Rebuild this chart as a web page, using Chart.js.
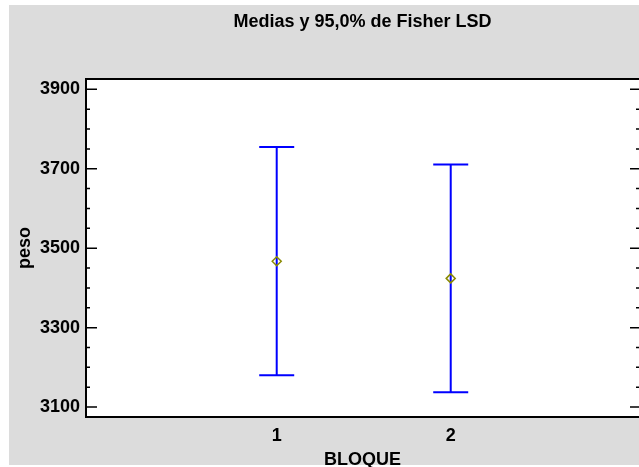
<!DOCTYPE html>
<html>
<head>
<meta charset="utf-8">
<script src="https://cdn.jsdelivr.net/npm/chart.js@4.4.0/dist/chart.umd.min.js"></script>
<style>
    html, body { margin: 0; padding: 0; background: #ffffff; }
    canvas { display: block; }
</style>
</head>
<body>
<canvas id="chart" width="639" height="467"></canvas>
<script>
'use strict'
// medias de peso por bloque con intervalos LSD de Fisher
const categories = [1, 2];
const means = [3467, 3424];
const lower = [3180, 3137];
const upper = [3755, 3711];
const yTicks = [3100, 3300, 3500, 3700, 3900];

const titleText = 'Medias y 95,0% de Fisher LSD';
const xTitle = 'BLOQUE';
const yTitle = 'peso';

const boldFont = (size) => ({ family: '"Liberation Sans", Arial, sans-serif', size: size, weight: 'bold', lineHeight: 1 });

const backPlugin = {
    id: 'back',
    beforeDraw(chart) {
        const ctx = chart.ctx;
        const a = chart.chartArea;
        ctx.save();
        ctx.fillStyle = '#ffffff';
        ctx.fillRect(0, 0, chart.width, chart.height);
        ctx.fillStyle = '#dcdcdc';
        ctx.fillRect(9, 5, chart.width - 9, 460);
        ctx.fillStyle = '#ffffff';
        ctx.fillRect(a.left, a.top, a.right - a.left, a.bottom - a.top);
        ctx.restore();
    }
};

const errorBars = {
    id: 'errorBars',
    beforeDatasetsDraw(chart) {
        const ctx = chart.ctx;
        const x = chart.scales.x;
        const y = chart.scales.y;
        ctx.save();
        ctx.strokeStyle = '#0000ff';
        ctx.lineWidth = 2;
        for (let i = 0; i < categories.length; i++) {
            const px = x.getPixelForValue(categories[i]);
            const top = y.getPixelForValue(upper[i]);
            const bot = y.getPixelForValue(lower[i]);
            ctx.beginPath();
            ctx.moveTo(px, top);
            ctx.lineTo(px, bot);
            ctx.moveTo(px - 17.5, top);
            ctx.lineTo(px + 17.5, top);
            ctx.moveTo(px - 17.5, bot);
            ctx.lineTo(px + 17.5, bot);
            ctx.stroke();
        }
        ctx.restore();
    }
};

const frame = {
    id: 'frame',
    afterDraw(chart) {
        const ctx = chart.ctx;
        const a = chart.chartArea;
        const y = chart.scales.y;
        ctx.save();
        ctx.strokeStyle = '#000000';

        // ticks por dentro, a ambos lados
        ctx.lineWidth = 1.5;
        ctx.beginPath();
        for (let i = 0; i < yTicks.length; i++) {
            const py = y.getPixelForValue(yTicks[i]);
            ctx.moveTo(a.left, py);
            ctx.lineTo(a.left + 11, py);
            ctx.moveTo(a.right - 9, py);
            ctx.lineTo(a.right, py);
            if (i < yTicks.length - 1) {
                const step = (yTicks[i + 1] - yTicks[i]) / 4;
                for (let k = 1; k < 4; k++) {
                    const my = y.getPixelForValue(yTicks[i] + step * k);
                    ctx.moveTo(a.left, my);
                    ctx.lineTo(a.left + 4, my);
                    ctx.moveTo(a.right - 3, my);
                    ctx.lineTo(a.right, my);
                }
            }
        }
        ctx.stroke();

        ctx.lineWidth = 2;
        ctx.beginPath();
        ctx.moveTo(a.right, a.top);
        ctx.lineTo(a.left, a.top);
        ctx.lineTo(a.left, a.bottom);
        ctx.lineTo(a.right, a.bottom);
        ctx.stroke();

        ctx.fillStyle = '#000000';
        ctx.font = 'bold 18px "Liberation Sans", Arial, sans-serif';
        ctx.textAlign = 'center';
        ctx.textBaseline = 'middle';
        ctx.fillText(titleText, (a.left + a.right) / 2, 22);
        ctx.restore();
    }
};

const ctx = document.getElementById('chart').getContext('2d');
const chart = new Chart(ctx, {
    type: 'scatter',
    data: {
        datasets: [{
            data: categories.map((c, i) => ({ x: c, y: means[i] })),
            pointStyle: 'rectRot',
            radius: 4.5,
            borderColor: '#8a8a00',
            backgroundColor: 'rgba(0,0,0,0)',
            borderWidth: 1.5
        }]
    },
    options: {
        responsive: false,
        animation: false,
        devicePixelRatio: 1,
        layout: {
            autoPadding: false,
            padding: { top: 79, left: 0, right: 0, bottom: 0 }
        },
        plugins: {
            legend: { display: false },
            tooltip: { enabled: false },
            title: { display: false }
        },
        scales: {
            x: {
                type: 'linear',
                min: -0.096,
                max: 3.082,
                afterBuildTicks: (scale) => {
                    scale.ticks = categories.map((v) => ({ value: v }));
                },
                afterFit: (scale) => {
                    scale.height = 50;
                    scale.paddingLeft = 0;
                    scale.paddingRight = 0;
                },
                grid: { display: false, drawTicks: false },
                border: { display: false },
                ticks: {
                    color: '#000000',
                    font: boldFont(18),
                    padding: 10,
                    maxRotation: 0,
                    callback: (v) => String(v)
                },
                title: {
                    display: true,
                    text: xTitle,
                    color: '#000000',
                    font: boldFont(18),
                    padding: { top: 0, bottom: -2 }
                }
            },
            y: {
                min: 3075,
                max: 3926,
                afterBuildTicks: (scale) => {
                    scale.ticks = yTicks.map((v) => ({ value: v }));
                },
                afterFit: (scale) => {
                    scale.width = 86;
                    scale.paddingTop = 0;
                    scale.paddingBottom = 0;
                },
                grid: { display: false, drawTicks: false },
                border: { display: false },
                ticks: {
                    color: '#000000',
                    font: boldFont(18),
                    padding: 6,
                    callback: (v) => String(v)
                },
                title: {
                    display: true,
                    text: yTitle,
                    color: '#000000',
                    font: boldFont(18),
                    padding: { top: 16, bottom: 0 }
                }
            }
        }
    },
    plugins: [backPlugin, errorBars, frame]
});
</script>
</body>
</html>
